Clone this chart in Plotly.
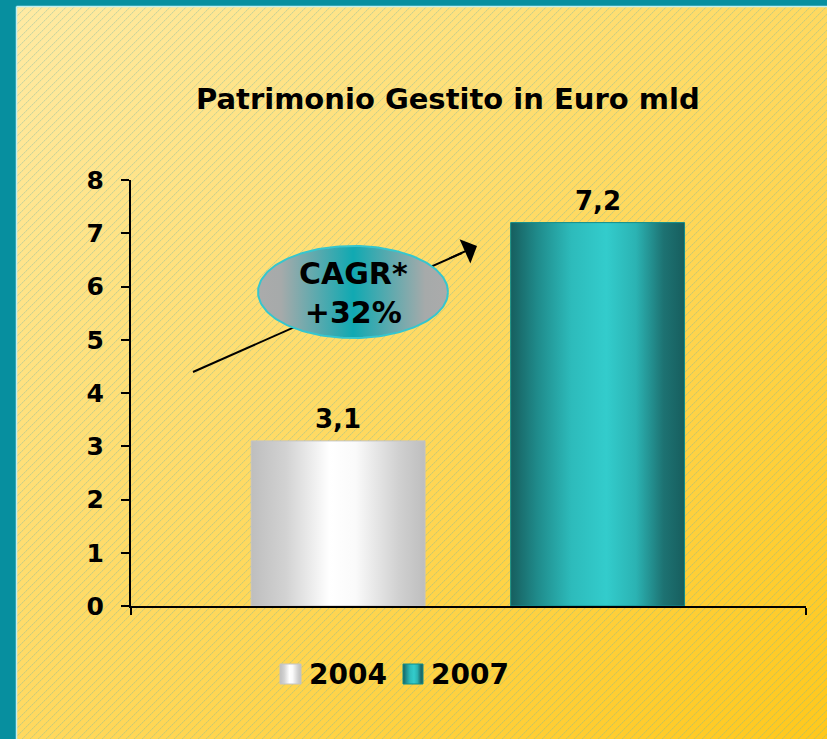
import base64
import struct
import zlib

import numpy as np
import plotly.graph_objects as go

# ---------------- data ----------------
categories = ["2004", "2007"]
values = [3.1, 7.2]
y_ticks = [0, 1, 2, 3, 4, 5, 6, 7, 8]
title_text = "Patrimonio Gestito in Euro mld"
cagr_text = "CAGR*<br>+32%"

# ---------------- styles ----------------
W, H = 827, 739
FONT = "DejaVu Sans"
bar_scales = [
    [[0, "#BEBEBE"], [0.2, "#D2D2D2"], [0.45, "#FFFFFF"], [0.6, "#FAFAFA"], [0.85, "#D0D0D0"], [1, "#BEBEBE"]],
    [[0, "#175E5E"], [0.15, "#1F8A8A"], [0.35, "#2DBBBB"], [0.55, "#33CCCC"], [0.72, "#2BB3B3"], [0.88, "#1D7272"], [1, "#175E5E"]],
]
bar_lines = ["#C4C4C4", "#0E8E8E"]
bar_width = 0.67
x_range = [-0.798, 1.803]


# ---------------- background image (gradient + hatching) ----------------
def png_data_uri(arr):
    h, w, _ = arr.shape
    raw = b"".join(b"\x00" + arr[r].tobytes() for r in range(h))

    def chunk(t, d):
        c = struct.pack(">I", len(d)) + t + d
        return c + struct.pack(">I", zlib.crc32(t + d) & 0xFFFFFFFF)

    png = (b"\x89PNG\r\n\x1a\n"
           + chunk(b"IHDR", struct.pack(">IIBBBBB", w, h, 8, 2, 0, 0, 0))
           + chunk(b"IDAT", zlib.compress(raw, 9))
           + chunk(b"IEND", b""))
    return "data:image/png;base64," + base64.b64encode(png).decode()


px0, py0 = 17, 7
pw, ph = W - px0, H - py0
XX, YY = np.meshgrid(np.arange(pw) + px0, np.arange(ph) + py0)
t = np.clip((XX / W + YY / H) / 2.0, 0, 1)[..., None]
c0 = np.array([255, 235, 165], float)
c1 = np.array([255, 200, 28], float)
bg = c0 * (1 - t) + c1 * t
d = (XX + YY) % 8
alpha = np.where(d == 0, 0.36, np.where(d == 1, 0.08, 0.0))
alpha = alpha * np.where((XX % 2) == 0, 1.0, 0.65)
alpha = alpha[..., None]
hatch = np.array([110, 180, 170], float)
img = (bg * (1 - alpha) + hatch * alpha).round().astype(np.uint8)
bg_uri = png_data_uri(img)

fig = go.Figure()

# ---------------- bars (gradient-filled rectangles from the data) ----------------
for i, (cat, val) in enumerate(zip(categories, values)):
    x0, x1 = i - bar_width / 2, i + bar_width / 2
    fig.add_trace(go.Scatter(
        x=[x0, x0, x1, x1, x0], y=[0, val, val, 0, 0],
        mode="lines", fill="toself", name=cat,
        line=dict(color=bar_lines[i], width=1),
        fillgradient=dict(type="horizontal", colorscale=bar_scales[i]),
        hoverinfo="skip", showlegend=False,
    ))
    fig.add_annotation(
        x=i, y=val, xref="x", yref="y", text=f"{val:.1f}".replace(".", ","),
        showarrow=False, yanchor="bottom", yshift=5,
        font=dict(family=FONT, size=26, color="black", weight="bold"),
    )

# ---------------- overlay (pixel coordinates) : arrow, CAGR ellipse, legend ----------------
fig.add_trace(go.Scatter(
    x=[193, 462], y=[372, 253], xaxis="x2", yaxis="y2", mode="lines",
    line=dict(color="black", width=2), hoverinfo="skip", showlegend=False,
))
th = np.linspace(0, 2 * np.pi, 181)
ecx, ecy, ea, eb = 353, 292, 95, 46
fig.add_trace(go.Scatter(
    x=ecx + ea * np.cos(th), y=ecy + eb * np.sin(th), xaxis="x2", yaxis="y2",
    mode="lines", fill="toself", line=dict(color="#36C6CE", width=2),
    fillgradient=dict(type="horizontal", colorscale=[
        [0, "#ABABAB"], [0.12, "#A6AAAA"], [0.5, "#10A9B2"],
        [0.88, "#A6AAAA"], [1, "#ABABAB"]]),
    hoverinfo="skip", showlegend=False,
))
leg_sw = [(280, 301), (403, 423)]
for i, cat in enumerate(categories):
    sx0, sx1 = leg_sw[i]
    fig.add_trace(go.Scatter(
        x=[sx0, sx0, sx1, sx1, sx0], y=[684, 664, 664, 684, 684], xaxis="x2", yaxis="y2",
        mode="lines", fill="toself", line=dict(color=bar_lines[i], width=1),
        fillgradient=dict(type="horizontal", colorscale=bar_scales[i]),
        hoverinfo="skip", showlegend=False,
    ))
    fig.add_annotation(
        x=sx1 + 6, y=674, xref="x2", yref="y2", text=cat, showarrow=False,
        xanchor="left", yanchor="middle",
        font=dict(family=FONT, size=28, color="black", weight="bold"),
    )

fig.add_annotation(
    x=477, y=246, ax=448, ay=259, xref="x2", yref="y2", axref="x2", ayref="y2",
    text="", showarrow=True, arrowhead=1, arrowsize=2.2, arrowwidth=2, arrowcolor="black",
)
fig.add_annotation(
    x=ecx, y=ecy + 1, xref="x2", yref="y2", text=cagr_text, showarrow=False,
    font=dict(family=FONT, size=30, color="black", weight="bold"),
)
fig.add_annotation(
    x=448 / W, y=1 - 99 / H, xref="paper", yref="paper", text=title_text, showarrow=False,
    xanchor="center", yanchor="middle",
    font=dict(family=FONT, size=29, color="black", weight="bold"),
)

fig.update_layout(
    width=W, height=H,
    margin=dict(l=0, r=0, t=0, b=0, pad=0),
    paper_bgcolor="#078F9F",
    plot_bgcolor="rgba(0,0,0,0)",
    showlegend=False,
    images=[dict(source=bg_uri, xref="paper", yref="paper", x=px0 / W, y=1 - py0 / H,
                 sizex=pw / W, sizey=ph / H, sizing="stretch", layer="below",
                 xanchor="left", yanchor="top")],
    shapes=[
        dict(type="line", xref="paper", yref="paper", x0=(px0 - 0.5) / W, x1=(px0 - 0.5) / W,
             y0=0, y1=1 - (py0 - 0.5) / H, line=dict(color="#BFEFF2", width=1.5), layer="above"),
        dict(type="line", xref="paper", yref="paper", x0=(px0 - 0.5) / W, x1=1,
             y0=1 - (py0 - 0.5) / H, y1=1 - (py0 - 0.5) / H, line=dict(color="#BFEFF2", width=1.5), layer="above"),
    ],
    xaxis=dict(domain=[131 / W, 806 / W], range=x_range, showgrid=False, zeroline=False,
               showline=True, linecolor="black", linewidth=2,
               tickmode="array", tickvals=x_range, ticks="outside", ticklen=7, tickwidth=2,
               tickcolor="black", showticklabels=False, automargin=False, fixedrange=True),
    yaxis=dict(domain=[1 - 606 / H, 1 - 180 / H], range=[0, 8], showgrid=False, zeroline=False,
               showline=True, linecolor="black", linewidth=2,
               tickmode="array", tickvals=y_ticks, ticks="outside", ticklen=8, tickwidth=2,
               tickcolor="black", automargin=False, fixedrange=True, ticklabelstandoff=12,
               tickfont=dict(family=FONT, size=25, color="black", weight="bold")),
    xaxis2=dict(domain=[0, 1], range=[0, W], visible=False, fixedrange=True),
    yaxis2=dict(domain=[0, 1], range=[H, 0], visible=False, fixedrange=True),
)

fig.write_html("out.html", config={"displayModeBar": False},
               post_script="document.body.style.margin='0';document.body.style.overflow='hidden';")
